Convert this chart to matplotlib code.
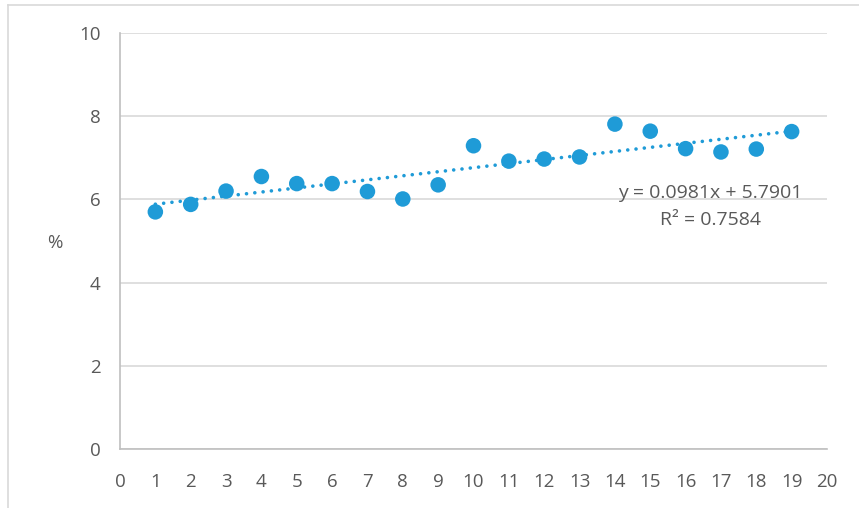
import matplotlib.pyplot as plt
from matplotlib.lines import Line2D
import numpy as np

# Values
x_vals = list(range(1, 20))
pct_vals = [5.70, 5.88, 6.20, 6.55, 6.38, 6.38, 6.19, 6.01, 6.35, 7.29,
            6.92, 6.97, 7.02, 7.81, 7.64, 7.22, 7.14, 7.21, 7.63]
x_ticks = list(range(0, 21))
y_ticks = [0, 2, 4, 6, 8, 10]
eq_text = "y = 0.0981x + 5.7901"
r2_text = "R\u00b2 = 0.7584"

blue = '#1f9bd7'
gray_text = '#595959'

plt.rcParams['font.family'] = ['Open Sans', 'DejaVu Sans']

fig = plt.figure(figsize=(8.59, 5.08), dpi=100)
ax = fig.add_axes([120 / 859, 1 - 449 / 508, (827 - 120) / 859, (449 - 33) / 508])

# figure frame (only top and left edges visible in the reference)
fig.add_artist(Line2D([8 / 859, 1.0], [1 - 5 / 508, 1 - 5 / 508], transform=fig.transFigure,
                      color='#d9d9d9', lw=1.2))
fig.add_artist(Line2D([8 / 859, 8 / 859], [0, 1 - 5 / 508], transform=fig.transFigure,
                      color='#d9d9d9', lw=1.2))

# linear trendline
slope, intercept = np.polyfit(x_vals, pct_vals, 1)
xs = np.array([x_vals[0], x_vals[-1]])
ax.plot(xs, slope * xs + intercept, color=blue, linestyle=(0, (0.01, 2.3)), linewidth=2.6,
        dash_capstyle='round', zorder=2)

ax.scatter(x_vals, pct_vals, s=125, color=blue, edgecolor='none', zorder=3)

ax.set_xlim(0, 20)
ax.set_ylim(0, 10)
ax.set_xticks(x_ticks)
ax.set_yticks(y_ticks)
ax.tick_params(length=0, labelsize=13.5, colors=gray_text)
ax.tick_params(axis='x', pad=17)
ax.tick_params(axis='y', pad=14)
ax.grid(axis='y', color='#d9d9d9', linewidth=1.2, zorder=0)
ax.set_axisbelow(True)

for side in ['top', 'right']:
    ax.spines[side].set_visible(False)
for side in ['left', 'bottom']:
    ax.spines[side].set_color('#bfbfbf')
    ax.spines[side].set_linewidth(1.2)

fig.text(55 / 859, 1 - 243 / 508, '%', fontsize=13.5, color=gray_text, ha='center', va='center')

ax.text(16.7, 6.15, eq_text, fontsize=14, color=gray_text, ha='center', va='center')
ax.text(16.7, 5.5, r2_text, fontsize=14, color=gray_text, ha='center', va='center')

plt.savefig('out.png', dpi=100)
